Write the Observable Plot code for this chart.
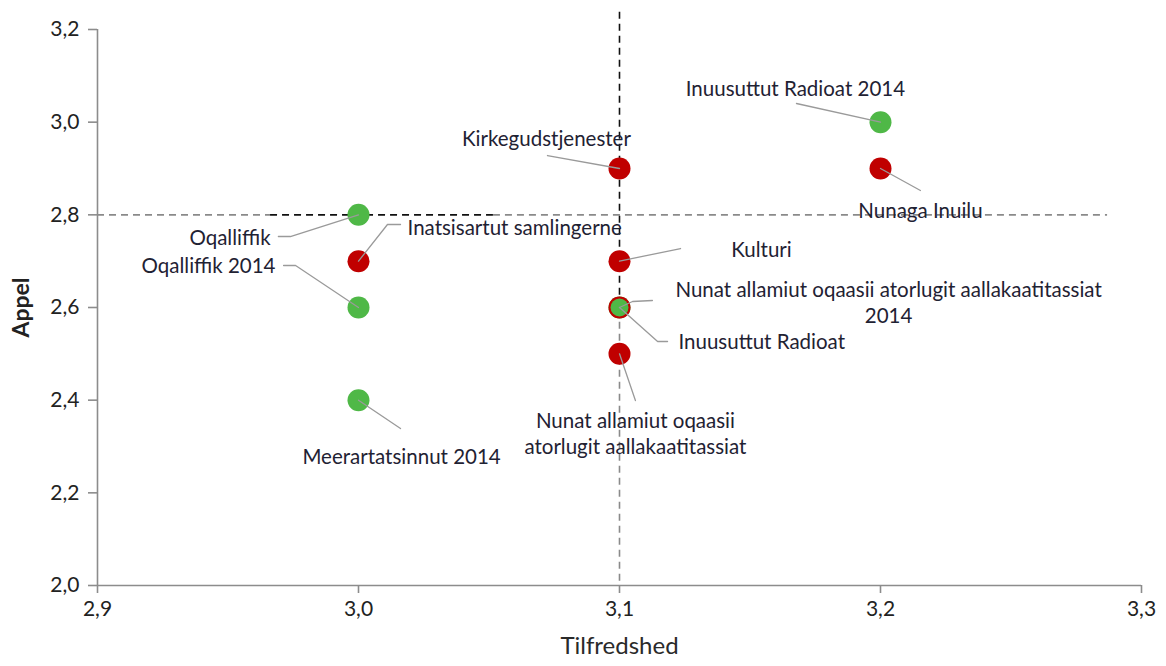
<!DOCTYPE html>
<html>
<head>
<meta charset="utf-8">
<script src="https://cdn.jsdelivr.net/npm/d3@7"></script>
<script src="https://cdn.jsdelivr.net/npm/@observablehq/plot@0.6"></script>
<style>
  html, body { margin: 0; padding: 0; background: #fff; }
  #chart { width: 1166px; height: 666px; }
</style>
</head>
<body>
<div id="chart"></div>
<script>
// ---- Data ----
const names = [
  "Inuusuttut Radioat 2014",
  "Kirkegudstjenester",
  "Nunaga Inuilu",
  "Oqalliffik",
  "Oqalliffik 2014",
  "Inatsisartut samlingerne",
  "Kulturi",
  "Nunat allamiut oqaasii atorlugit aallakaatitassiat\n2014",
  "Inuusuttut Radioat",
  "Nunat allamiut oqaasii\natorlugit aallakaatitassiat",
  "Meerartatsinnut 2014"
];
const tilfredshed = [3.2, 3.1, 3.2, 3.0, 3.0, 3.0, 3.1, 3.1, 3.1, 3.1, 3.0];
const appel       = [3.0, 2.9, 2.9, 2.8, 2.6, 2.7, 2.7, 2.6, 2.6, 2.5, 2.4];
const series      = ["2014", "andre", "andre", "2014", "2014", "andre", "andre", "2014", "andre", "andre", "2014"];

// label anchor positions (data units) and text anchors
const labelX = [3.1674, 3.072, 3.2153, 2.9663, 2.9682, 3.0188, 3.1544, 3.2031, 3.1226, 3.1061, 3.0165];
const labelY = [3.0748, 2.9669, 2.8115, 2.7489, 2.6885, 2.7705, 2.7273, 2.613, 2.5244, 2.3302, 2.2805];
const labelAnchor = ["middle", "middle", "middle", "end", "end", "start", "middle", "middle", "start", "middle", "middle"];

// leader line bend points (data units), from label side toward point
const leaderX = [[3.1678], [3.0724], [3.2153], [2.9693, 2.9739], [2.9713, 2.9759], [3.0161, 3.0111], [3.1234], [3.1126, 3.105], [3.1184, 3.1146], [3.1061], [3.0161]];
const leaderY = [[3.0403], [2.928], [2.8525], [2.7532, 2.7532], [2.6906, 2.6906], [2.7791, 2.7791], [2.7273], [2.6151, 2.6129], [2.5266, 2.5266], [2.3992], [2.3388]];

// reference lines: [from, to, tone]
const refY = 2.8, refX = 3.1;
const refYSegments = [[2.9, 2.9663, "grey"], [2.9663, 3.0517, "black"], [3.0517, 3.287, "grey"]];
const refXSegments = [[3.237, 2.62, "black"], [2.62, 2.0, "grey"]];

const xTicks = [2.9, 3.0, 3.1, 3.2, 3.3];
const yTicks = [2.0, 2.2, 2.4, 2.6, 2.8, 3.0, 3.2];
const xTitle = "Tilfredshed";
const yTitle = "Appel";

// ---- Build ----
const points = names.map((n, i) => ({name: n, x: tilfredshed[i], y: appel[i], s: series[i]}));
const labels = names.map((n, i) => ({name: n, x: labelX[i], y: labelY[i], anchor: labelAnchor[i]}));
const leaders = [];
names.forEach((n, i) => {
  leaderX[i].forEach((lx, j) => leaders.push({id: i, x: lx, y: leaderY[i][j]}));
  leaders.push({id: i, x: tilfredshed[i], y: appel[i]});
});
const green = points.filter(p => p.s === "2014");
const red = points.filter(p => p.s !== "2014");
const overlap = green.filter(g => red.some(r => r.x === g.x && r.y === g.y));
const hSeg = refYSegments.map(([a, b, t]) => ({x1: a, x2: b, t}));
const vSeg = refXSegments.map(([a, b, t]) => ({y1: a, y2: b, t}));

const fmt = d => d.toFixed(1).replace(".", ",");
const GREEN = "#4fb847", RED = "#c00000";
const tone = t => t === "black" ? "#111" : "#8a8a8a";
const dash = "7,5";
const labelFill = "#1f2233";

const chart = Plot.plot({
  width: 1166,
  height: 666,
  marginLeft: 97,
  marginRight: 25,
  marginTop: 29,
  marginBottom: 81,
  style: {fontFamily: "Lato, sans-serif", fontSize: "20px", color: "#222", background: "#fff"},
  x: {domain: [2.9, 3.3]},
  y: {domain: [2.0, 3.2]},
  marks: [
    // reference lines
    Plot.ruleY(hSeg, {y: () => refY, x1: "x1", x2: "x2", stroke: d => tone(d.t), strokeWidth: 1.6, strokeDasharray: dash}),
    Plot.ruleX(vSeg, {x: () => refX, y1: "y1", y2: "y2", stroke: d => tone(d.t), strokeWidth: 1.6, strokeDasharray: dash}),
    // axes
    Plot.ruleX([2.9], {stroke: "#8c8c8c", strokeWidth: 1.6}),
    Plot.ruleY([2.0], {stroke: "#8c8c8c", strokeWidth: 1.6}),
    Plot.axisX({ticks: xTicks, tickFormat: fmt, tickSize: 8, tickPadding: 8, stroke: "#8c8c8c", strokeWidth: 1.6, fontSize: 21, fill: "#222", label: null}),
    Plot.axisY({ticks: yTicks, tickFormat: fmt, tickSize: 9, tickPadding: 9, stroke: "#8c8c8c", strokeWidth: 1.6, fontSize: 21, fill: "#222", label: null}),
    Plot.text([xTitle], {text: d => d, frameAnchor: "bottom", dy: 68, fontSize: 24, fill: "#2a2a2a"}),
    Plot.text([yTitle], {text: d => d, frameAnchor: "left", textAnchor: "middle", dx: -76, rotate: -90, fontSize: 23, fontWeight: "bold", fill: "#222"}),
    // points
    Plot.dot(green, {x: "x", y: "y", r: 11, fill: GREEN}),
    Plot.dot(red, {x: "x", y: "y", r: 11, fill: RED}),
    Plot.dot(overlap, {x: "x", y: "y", r: 9, fill: GREEN}),
    // leaders
    Plot.line(leaders, {x: "x", y: "y", z: "id", stroke: "#9a9a9a", strokeWidth: 1.3, curve: "linear"}),
    // labels
    Plot.text(labels.filter(l => l.anchor === "middle"), {x: "x", y: "y", text: "name", textAnchor: "middle", fontSize: 20.5, fill: labelFill, lineHeight: 1.27}),
    Plot.text(labels.filter(l => l.anchor === "start"), {x: "x", y: "y", text: "name", textAnchor: "start", fontSize: 20.5, fill: labelFill}),
    Plot.text(labels.filter(l => l.anchor === "end"), {x: "x", y: "y", text: "name", textAnchor: "end", fontSize: 20.5, fill: labelFill})
  ]
});
document.getElementById("chart").appendChild(chart);
</script>
</body>
</html>
